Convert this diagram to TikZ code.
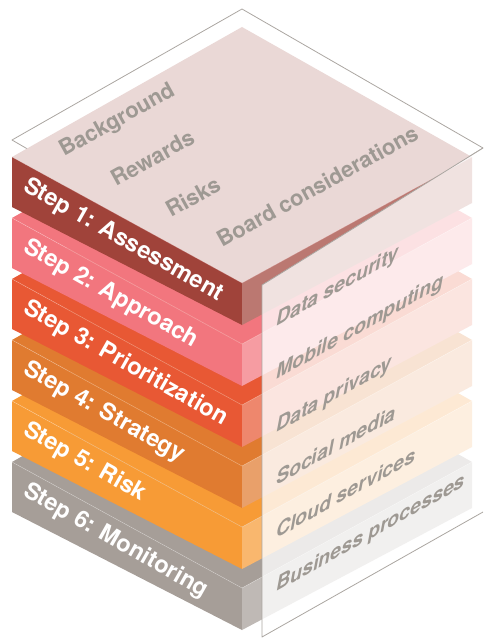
\documentclass[tikz,border=0pt]{standalone}
\usepackage{fontspec}
\setmainfont{TeX Gyre Heros}
\usepackage{xcolor}
\usepackage{tikz}
\definecolor{stepOne}{HTML}{A0433A}
\definecolor{stepTwo}{HTML}{F2767E}
\definecolor{stepThree}{HTML}{E85834}
\definecolor{stepFour}{HTML}{E07B30}
\definecolor{stepFive}{HTML}{F79B36}
\definecolor{stepSix}{HTML}{A69E98}
\definecolor{paleTop}{HTML}{EAD8D6}
\definecolor{lblGray}{HTML}{9E9993}
\definecolor{glassLine}{HTML}{ABA6A1}
\tikzset{
  glassEdge/.style={draw=glassLine, line width=0.8pt, line join=round},
  glassPane/.style={fill=white, fill opacity=0.79},
  faceEdge/.style={draw=white, draw opacity=0.35, line width=0.5pt},
  stepLbl/.style={text=white, font=\fontsize{23.5}{23.5}\selectfont\bfseries, anchor=base west, rotate=-29.5},
  topLbl/.style={text=lblGray, font=\fontsize{22}{22}\selectfont\bfseries, anchor=base west, rotate=29},
  sideLbl/.style={text=lblGray, font=\fontsize{19.5}{19.5}\selectfont\bfseries\itshape, anchor=base west, yslant=0.56, transform shape},
}
\newcommand{\GlassCoords}{%
  \coordinate (gL) at (12,140);
  \coordinate (gT) at (242,9);
  \coordinate (gR) at (483,148);
  \coordinate (gF) at (262,285);
  \coordinate (gB) at (262,637);
  \coordinate (gBR) at (483,512);
}
% #1 = drop, #2 = colour, #3 = colour of the top
\newcommand{\StepSlab}[3]{%
  \fill[#3] (12,{157+#1}) -- (242,{27+#1}) -- (472,{157+#1}) -- (242,{283+#1}) -- cycle;
  \fill[#2] (12,{157+#1}) -- (242,{283+#1}) -- (242,{325+#1}) -- (12,{207+#1}) -- cycle;
  \fill[#2!72!white] (242,{283+#1}) -- (472,{157+#1}) -- (472,{203+#1}) -- (242,{325+#1}) -- cycle;
  \draw[faceEdge] (12,{157+#1}) -- (242,{283+#1}) -- (472,{157+#1});
}

\begin{document}
\begin{tikzpicture}[x=1pt, y=-1pt, every node/.style={inner sep=0pt}]
  \useasboundingbox (0,0) rectangle (484,639);
  \GlassCoords

  % back of the glass box
  \draw[glassEdge] (gL)--(gT)--(gR)--(gF)--cycle;

  % slabs, bottom first
  \StepSlab{305}{stepSix}{stepSix}
  \StepSlab{244}{stepFive}{stepFive}
  \StepSlab{183}{stepFour}{stepFour}
  \StepSlab{122}{stepThree}{stepThree}
  \StepSlab{61}{stepTwo}{stepTwo}
  \StepSlab{0}{stepOne}{paleTop}

  % front pane
  \fill[glassPane] (gF)--(gR)--(gBR)--(gB)--cycle;
  \draw[glassEdge] (gR)--(gF)--(gB)--(gBR);

  % Step labels
  \node[stepLbl] (s1) at (22,190) {Step 1: Assessment};
  \node[stepLbl] (s2) at (22,251) {Step 2: Approach};
  \node[stepLbl] (s3) at (22,312) {Step 3: Prioritization};
  \node[stepLbl] (s4) at (22,373) {Step 4: Strategy};
  \node[stepLbl] (s5) at (22,434) {Step 5: Risk};
  \node[stepLbl] (s6) at (22,495) {Step 6: Monitoring};

  % Top labels
  \node[topLbl] (bg) at (64,157) {Background};
  \node[topLbl] (rw) at (116,187) {Rewards};
  \node[topLbl] (rk) at (171,218) {Risks};
  \node[topLbl] (bc) at (222,248) {Board considerations};

  % Side labels
  \node[sideLbl] (ds) at (276,327) {Data security};
  \node[sideLbl] (mc) at (276,380) {Mobile computing};
  \node[sideLbl] (dp) at (276,433) {Data privacy};
  \node[sideLbl] (sm) at (276,486) {Social media};
  \node[sideLbl] (cs) at (276,539) {Cloud services};
  \node[sideLbl] (bp) at (276,592) {Business processes};
\end{tikzpicture}
\end{document}
